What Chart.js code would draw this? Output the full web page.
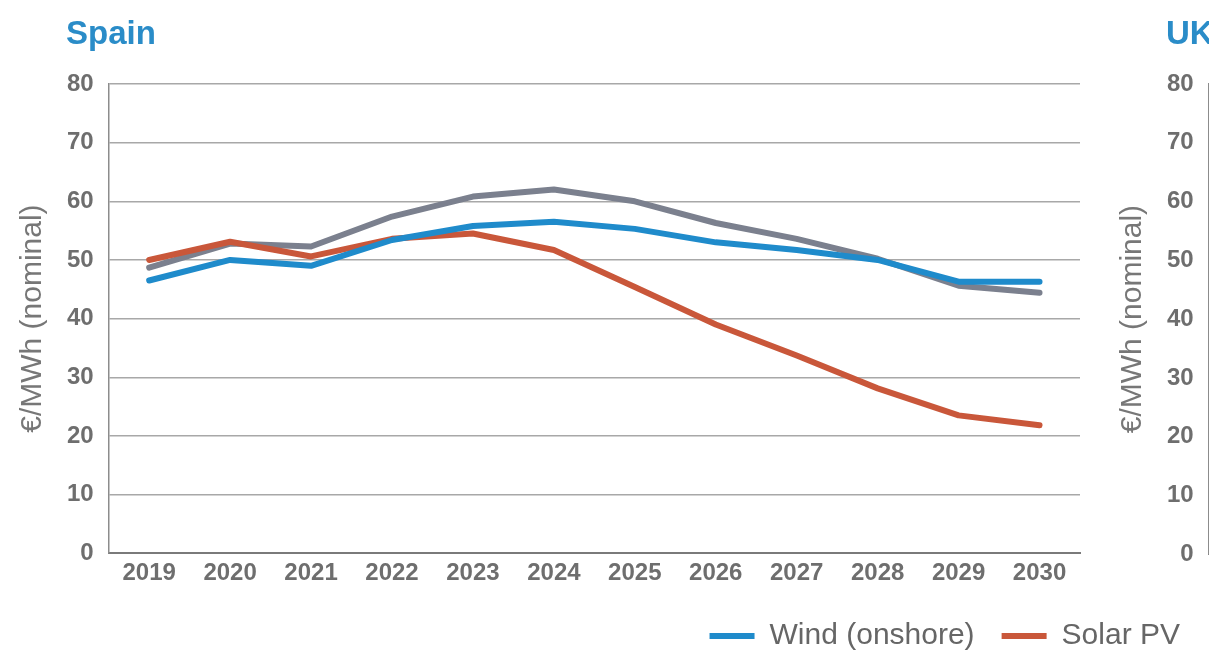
<!DOCTYPE html>
<html>
<head>
<meta charset="utf-8">
<script src="https://cdn.jsdelivr.net/npm/chart.js@4.4.1/dist/chart.umd.min.js"></script>
<style>
  html, body { margin: 0; padding: 0; background: #fff; overflow: hidden; }
  body { width: 1209px; height: 656px; position: relative; font-family: "Liberation Sans", Arial, sans-serif; }
  .ttl { position: absolute; top: 16px; font-size: 33px; line-height: 33px; font-weight: bold; color: #2a8cc8; }
  #spainBox { position: absolute; left: 0; top: 0; width: 1217px; height: 656px; }
  #ukBox { position: absolute; left: 1100px; top: 0; width: 1100px; height: 656px; }
</style>
</head>
<body>
<div id="ukBox"><canvas id="uk"></canvas></div>
<div id="spainBox"><canvas id="spain"></canvas></div>
<div class="ttl" style="left:66px">Spain</div>
<div class="ttl" style="left:1166px">UK</div>
<script>
// Spain, €/MWh nominal
var years = ["2019","2020","2021","2022","2023","2024","2025","2026","2027","2028","2029","2030"]
var wind = [46.5, 50.0, 49.0, 53.4, 55.8, 56.5, 55.3, 53.0, 51.7, 50.0, 46.3, 46.3]
var solar = [50.0, 53.1, 50.6, 53.6, 54.5, 51.7, 45.4, 39.0, 33.7, 28.1, 23.5, 21.8]
var baseload = [48.7, 52.8, 52.3, 57.4, 60.8, 62.0, 60.0, 56.3, 53.6, 50.2, 45.6, 44.4]
var yTicks = [0, 10, 20, 30, 40, 50, 60, 70, 80]

var grey = "#6e6e6e"

//skala y wspolna dla obu wykresow
function yScale(){
    return {
        min: yTicks[0],
        max: yTicks[yTicks.length-1],
        afterBuildTicks: function(s){ s.ticks = yTicks.map(function(v){ return {value:v} }) },
        ticks: { color: grey, font: {size: 24, weight: "bold"}, padding: 15 },
        grid: { color: "#a8a8a8", lineWidth: 1.5, drawTicks: false },
        border: { color: "#8c8c8c", width: 1.5 },
        title: { display: true, text: "€/MWh (nominal)", color: "#777", font: {size: 30}, padding: {top: 0, bottom: 1} }
    }
}
function xScale(){
    return {
        offset: true,
        grid: { display: false, drawTicks: false },
        border: { color: "#7a7a7a", width: 2 },
        ticks: { color: grey, font: {size: 24, weight: "bold"}, padding: 6, maxRotation: 0 }
    }
}
function line(label, data, color){
    return { label: label, data: data, borderColor: color, backgroundColor: color,
        borderWidth: 6, pointRadius: 0, tension: 0, borderCapStyle: "round", borderJoinStyle: "round" }
}

Chart.defaults.font.family = '"Liberation Sans", Arial, sans-serif'
Chart.defaults.animation = false

new Chart(document.getElementById("spain"), {
    type: "line",
    data: {
        labels: years,
        datasets: [
            line("Wind (onshore)", wind, "#1f8bcb"),
            line("Solar PV", solar, "#c9573a"),
            line("Baseload", baseload, "#7b808e")
        ]
    },
    options: {
        responsive: true,
        maintainAspectRatio: false,
        layout: { padding: {left: 15, right: 10, top: 84, bottom: -5} },
        scales: {
            x: xScale(),
            y: yScale(),
            y2: { position: "right", display: true, grid: {display: false}, border: {display: false},
                ticks: {display: false}, afterFit: function(s){ s.width = 127 } }
        },
        plugins: {
            legend: {
                position: "bottom",
                align: "end",
                labels: {
                    usePointStyle: true,
                    pointStyle: "line",
                    pointStyleWidth: 45,
                    color: "#666",
                    font: {size: 30},
                    padding: 27,
                    filter: function(item){ return item.datasetIndex < 2 }
                }
            },
            tooltip: { enabled: false }
        }
    }
})

// UK - widoczna tylko os po prawej stronie
new Chart(document.getElementById("uk"), {
    type: "line",
    data: { labels: years, datasets: [] },
    options: {
        responsive: true,
        maintainAspectRatio: false,
        layout: { padding: {left: 15, right: 10, top: 84, bottom: 61} },
        scales: { x: xScale(), y: yScale() },
        plugins: { legend: {display: false}, tooltip: {enabled: false} }
    }
})
</script>
</body>
</html>
